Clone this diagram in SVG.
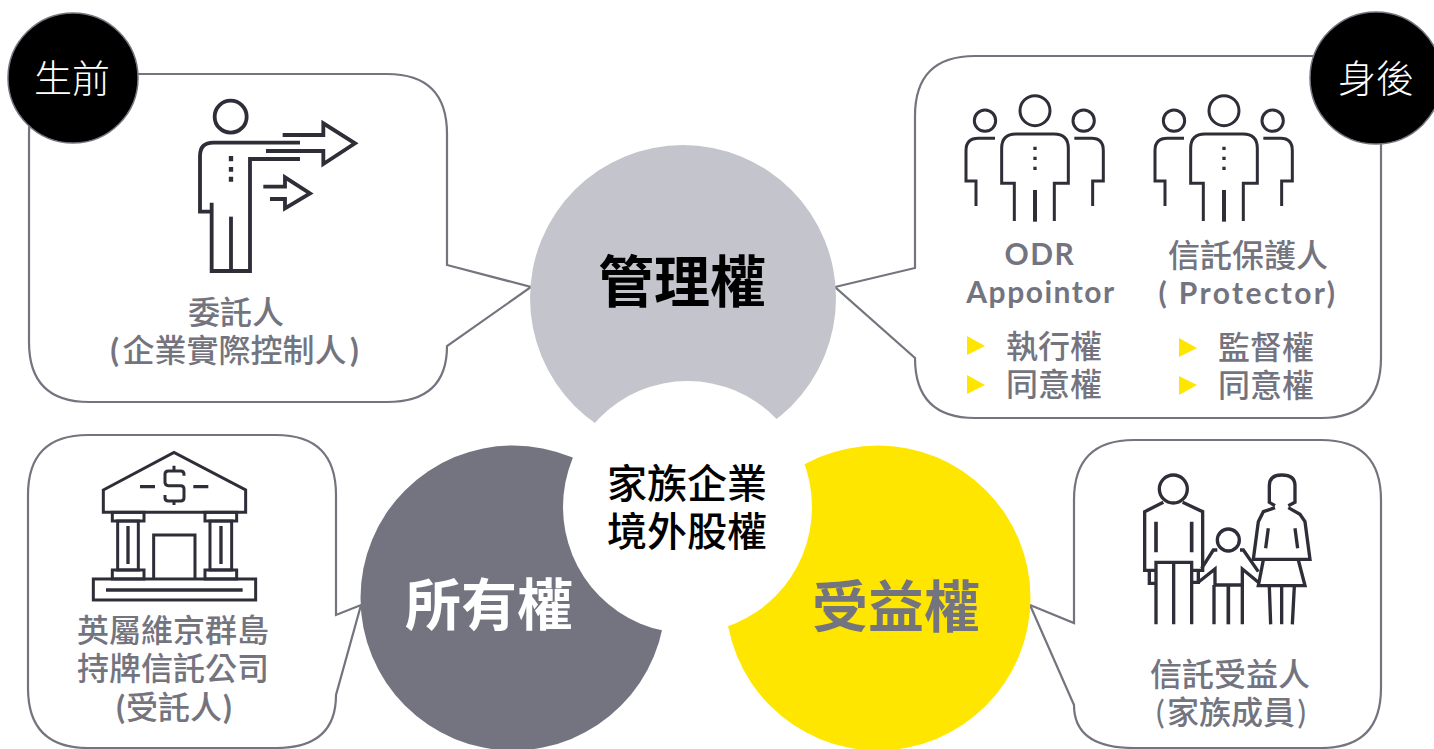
<svg xmlns="http://www.w3.org/2000/svg" width="1434" height="749" viewBox="0 0 1434 749">
<style>
text{font-family:"Noto Sans CJK TC","Noto Sans CJK SC",sans-serif;text-anchor:middle;fill:#74747f;font-size:32px;font-weight:500}
.lat{font-family:"Lato","Noto Sans CJK TC",sans-serif;font-weight:700;font-size:30px;letter-spacing:1.5px}
.par{font-family:"Lato",sans-serif;font-weight:700}
.big{font-size:56px;font-weight:700}
.mid{font-size:40px;fill:#000}
.tag{font-size:38px;fill:#fff;font-weight:300}
.bubble{fill:#fff;stroke:#74747f;stroke-width:2.2;stroke-linejoin:miter}
.ic{fill:none;stroke:#2e2e38;stroke-linejoin:miter}
.tri{fill:#ffe600}
</style>
<defs>
<g id="trio" class="ic" stroke-width="9">
<circle cx="255" cy="77" r="45"/>
<path d="M193 408V295H155V190Q155 147 198 147H312Q355 147 355 190V295H313V408"/>
<path d="M255 315V410" stroke-width="12"/>
<path d="M255 185V195M255 215V225M255 245V255" stroke-width="10"/>
<circle cx="105" cy="107" r="32"/>
<path d="M135 160H85Q48 160 48 197V288H78V363"/>
<circle cx="401" cy="107" r="32"/>
<path d="M373 160H425Q460 160 460 197V288H428V363"/>
</g>
</defs>
<g id="connectors">
<path class="bubble" d="M447 265V134Q447 74 387 74H89Q29 74 29 134V342Q29 402 89 402H387Q447 402 447 346L531 287Z"/>
<path class="bubble" d="M915 268V116Q915 56 975 56H1321Q1381 56 1381 116V358Q1381 418 1321 418H975Q915 418 915 358L835 287Z"/>
<path class="bubble" d="M336 615V495Q336 435 276 435H88Q28 435 28 495V688Q28 748 88 748H276Q336 748 336 695L361 605Z"/>
<path class="bubble" d="M1074 623V500Q1074 440 1134 440H1321Q1381 440 1381 500V688Q1381 748 1321 748H1134Q1074 748 1074 705L1030 605Z"/>
</g>
<g id="circles">
<circle id="manage-circle" cx="683" cy="298" r="153" fill="#c4c4cd"/>
<circle id="own-circle" cx="513" cy="598" r="152.500" fill="#747480"/>
<circle id="benefit-circle" cx="878" cy="598" r="152.500" fill="#ffe600"/>
<ellipse id="center-circle" cx="687.500" cy="507" rx="124.500" ry="126" fill="#fff"/>
</g>
<g id="manage"><text class="big" x="682" y="302" style="fill:#000">管理權</text></g>
<g id="own"><text class="big" x="489" y="625" style="fill:#fff">所有權</text></g>
<g id="benefit"><text class="big" x="896" y="627">受益權</text></g>
<g id="center"><text class="mid" x="687" y="498">家族企業</text><text class="mid" x="687" y="546">境外股權</text></g>
<g id="tag-before"><circle cx="73" cy="78" r="65" fill="#000" stroke="#74747f" stroke-width="1.500"/><text class="tag" x="72" y="92">生前</text></g>
<g id="tag-after"><circle cx="1376" cy="78" r="66" fill="#000" stroke="#74747f" stroke-width="1.500"/><text class="tag" x="1376" y="92">身後</text></g>
<g id="settlor">
<g transform="translate(180 90) scale(.3333)" class="ic" stroke-width="11.500">
<circle cx="152" cy="80" r="48"/>
<path d="M360 158H100Q60 158 60 198V365H95M95 338V543H210V207H360"/>
<path d="M153 380V545"/>
<path d="M153 198V214M153 231V245M153 260V275" stroke-width="13"/>
<path d="M308 135H430V100L525 160L430 222V183H258"/>
<path d="M250 290H315V262L390 310L315 355V327H270"/>
</g>
<text x="236" y="324">委託人</text>
<text x="234.500" y="362"><tspan class="par">(</tspan><tspan dx="3.500">企業實際控制人</tspan><tspan class="par" dx="3.500">)</tspan></text>
</g>
<g id="odr">
<use href="#trio" transform="translate(950 85) scale(.3333)"/>
<text class="lat" x="1040" y="265">ODR</text>
<text class="lat" x="1041" y="303">Appointor</text>
<polygon class="tri" points="967,336 985,346 967,355"/>
<polygon class="tri" points="967,375 985,385 967,394"/>
<text x="1054" y="358">執行權</text>
<text x="1054" y="396">同意權</text>
</g>
<g id="protector">
<use href="#trio" transform="translate(1139 85) scale(.3333)"/>
<text x="1248" y="267">信託保護人</text>
<text class="lat" x="1248" y="304" style="letter-spacing:2.4px">( Protector)</text>
<polygon class="tri" points="1179,338 1197,348 1179,357"/>
<polygon class="tri" points="1179,376 1197,385 1179,395"/>
<text x="1266" y="359">監督權</text>
<text x="1266" y="397">同意權</text>
</g>
<g id="trustee">
<g transform="translate(85 445) scale(.3333)" class="ic" stroke-width="9">
<path d="M55 135L267 22L482 135V202H55Z"/>
<path d="M267 62V78M267 165V180" stroke-width="9"/>
<path d="M297 92V88Q297 78 287 78H250Q240 78 240 88V112Q240 122 250 122H287Q297 122 297 132V158Q297 168 287 168H250Q240 168 240 158V150" stroke-width="9"/>
<path d="M165 125H210M325 125H370" stroke-width="10"/>
<rect x="82" y="202" width="95" height="26"/>
<rect x="360" y="202" width="95" height="26"/>
<rect x="98" y="228" width="62" height="147"/>
<rect x="375" y="228" width="65" height="147"/>
<path d="M129 243V357M408 243V357" stroke-width="10"/>
<rect x="82" y="375" width="95" height="27"/>
<rect x="360" y="375" width="95" height="27"/>
<path d="M206 402V270H330V402"/>
<rect x="25" y="402" width="487" height="63"/>
<path d="M63 435H473" stroke-width="11"/>
</g>
<text x="173" y="642">英屬維京群島</text>
<text x="173" y="680">持牌信託公司</text>
<text x="174" y="719"><tspan class="par">(</tspan><tspan dx="1">受託人</tspan><tspan class="par" dx="1">)</tspan></text>
</g>
<g id="beneficiary">
<g transform="translate(1130 465) scale(.3333)" class="ic" stroke-width="10">
<circle cx="130" cy="72" r="42"/>
<path d="M100 112L44 140V316H78M158 112L218 140V316H185"/>
<path d="M78 478V292H185V478M131 290V478"/>
<path d="M78 170V262M185 170V262" stroke-width="11"/>
<path d="M58 316V355H78M205 316V352H185"/>
<circle cx="295" cy="225" r="33"/>
<path d="M262 255H250L215 310M205 352L255 312V360H337V312L385 352M330 255H340L385 320"/>
<path d="M252 360V478M337 360V478"/>
<path d="M295 362V478" stroke-width="11"/>
<path d="M435 122L418 112V62Q418 30 455 30Q495 30 495 62V112L475 122"/>
<path d="M435 128L400 140L385 170L370 283H540L525 170L510 148L475 128"/>
<path d="M400 285L385 362H525L505 285"/>
<path d="M418 365L422 478M455 365V478M493 365L487 478"/>
<path d="M415 190L407 250M495 190L503 250"/>
</g>
<text x="1230" y="686">信託受益人</text>
<text x="1231" y="724"><tspan style="font-family:Lato,sans-serif;font-weight:400">(</tspan><tspan dx="2.500">家族成員</tspan><tspan style="font-family:Lato,sans-serif;font-weight:400" dx="2.500">)</tspan></text>
</g>
</svg>
